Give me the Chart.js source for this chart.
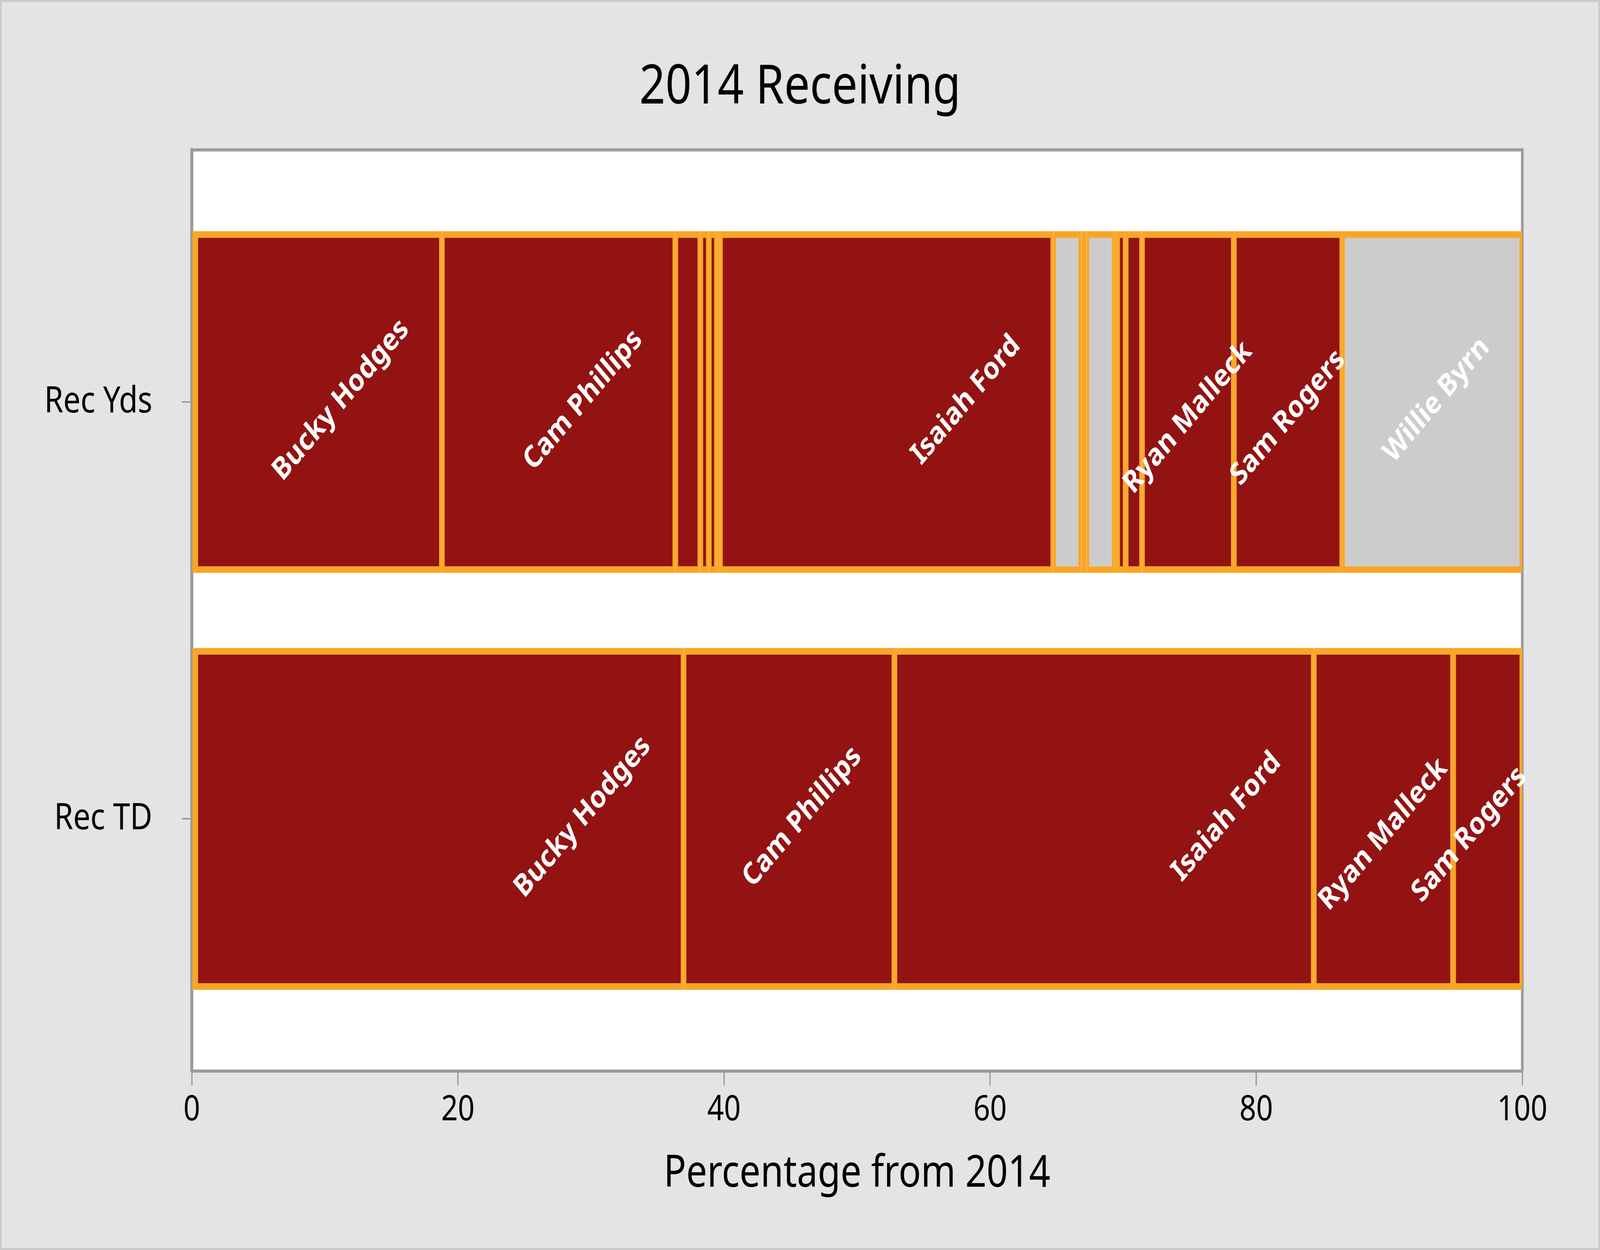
<!DOCTYPE html>
<html>
<head>
<meta charset="utf-8">
<script src="https://cdn.jsdelivr.net/npm/chart.js@4.4.1/dist/chart.umd.min.js"></script>
<style>
html,body{margin:0;padding:0;background:#E4E4E4;overflow:hidden;}
</style>
</head>
<body>
<canvas id="c" width="4868" height="3200" style="display:block;width:100vw;height:100vh;"></canvas>
<script>
// ---------- data ----------
const categories = ['Rec Yds', 'Rec TD'];
const players = ['Bucky Hodges', 'Cam Phillips', '', '', '', '', 'Isaiah Ford', '', '', '', '', '', '', 'Ryan Malleck', 'Sam Rogers', 'Willie Byrn'];
const recYds = [18.80, 17.54, 1.88, 0.64, 0.61, 0.23, 25.05, 2.10, 0.39, 2.11, 0.20, 0.64, 1.23, 6.90, 8.15, 13.53];
const recTD  = [36.96, 15.85, 0, 0, 0, 0, 31.52, 0, 0, 0, 0, 0, 0, 10.47, 5.20, 0];
const groups = ['a', 'a', 'a', 'a', 'a', 'a', 'a', 'b', 'b', 'b', 'b', 'a', 'a', 'a', 'a', 'b'];
const xTicks = [0, 20, 40, 60, 80, 100];

// ---------- styles ----------
const RED = '#921312', GRAY = '#CCCCCC', ORANGE = '#F9A627', FRAME = '#9B9B9B';
const FONT = 'Noto Sans';
const seriesByCat = [recYds, recTD];

function firstNonZero(arr) { return arr.findIndex(v => v > 0); }

const datasets = players.map((name, i) => ({
  label: name || ('segment ' + (i + 1)),
  data: [ {x: recYds[i], y: 0}, {x: recTD[i], y: 1} ],
  backgroundColor: groups[i] === 'a' ? RED : GRAY,
  borderColor: ORANGE,
  borderSkipped: false,
  inflateAmount: 0,
  borderWidth: (ctx) => {
    if (ctx.dataIndex === undefined) return 8.5;
    const arr = seriesByCat[ctx.dataIndex];
    const f = firstNonZero(arr);
    return {top: 17, bottom: 17, left: ctx.datasetIndex === f ? 17 : 8.5, right: 8.5};
  },
  categoryPercentage: 1,
  barPercentage: 0.82
}));

const bgPlugin = {
  id: 'bg',
  beforeDraw(chart) {
    const {ctx, width, height, chartArea: a} = chart;
    ctx.save();
    ctx.fillStyle = '#CBCBCB';
    ctx.fillRect(0, 0, width, height);
    ctx.fillStyle = '#E4E4E4';
    ctx.fillRect(5, 5, width - 10, height - 10);
    ctx.fillStyle = '#FFFFFF';
    ctx.fillRect(a.left, a.top, a.right - a.left, a.bottom - a.top);
    ctx.restore();
  },
  beforeDatasetsDraw(chart) {
    const {ctx, chartArea: a} = chart;
    ctx.save();
    ctx.strokeStyle = FRAME;
    ctx.lineWidth = 8;
    ctx.beginPath();
    ctx.moveTo(a.left, a.top);
    ctx.lineTo(a.right, a.top);
    ctx.lineTo(a.right, a.bottom);
    ctx.stroke();
    ctx.restore();
  }
};

const labelPlugin = {
  id: 'segLabels',
  afterDatasetsDraw(chart) {
    const {ctx} = chart;
    const ang = 45 * Math.PI / 180;
    const size = 78;
    ctx.save();
    ctx.font = 'bold ' + size + 'px "' + FONT + '"';
    ctx.fillStyle = '#FFFFFF';
    ctx.textAlign = 'center';
    ctx.textBaseline = 'middle';
    chart.data.datasets.forEach((ds, di) => {
      const name = players[di];
      if (!name) return;
      const meta = chart.getDatasetMeta(di);
      meta.data.forEach((bar, j) => {
        if (!(ds.data[j].x > 0)) return;
        const p = bar.getProps(['x', 'base', 'y'], true);
        const left = Math.min(p.x, p.base), right = Math.max(p.x, p.base);
        const w = ctx.measureText(name).width;
        const halfBB = (w * Math.cos(ang) + 0.72 * size * Math.sin(ang)) / 2;
        const center = (left + right) / 2;
        const fitsRight = (right - 93) >= (center + halfBB);
        let rightEnd = fitsRight ? right - 93 : center + halfBB;
        rightEnd = Math.min(rightEnd, chart.chartArea.right + 20);
        const cx = rightEnd - halfBB;
        const cy = p.y + (fitsRight ? -5 : 40);
        ctx.save();
        ctx.translate(cx, cy);
        ctx.rotate(-ang);
        ctx.fillText(name, 0, 0);
        ctx.restore();
      });
    });
    ctx.restore();
  }
};

new Chart(document.getElementById('c'), {
  type: 'bar',
  data: { datasets },
  plugins: [bgPlugin, labelPlugin],
  options: {
    indexAxis: 'y',
    responsive: false,
    animation: false,
    devicePixelRatio: 1,
    layout: { padding: 0 },
    plugins: {
      legend: { display: false },
      tooltip: { enabled: false },
      title: {
        display: true,
        text: '2014 Receiving',
        color: '#000000',
        font: { family: FONT, size: 139, weight: 'normal' },
        padding: { top: 142, bottom: 75 }
      }
    },
    scales: {
      x: {
        type: 'linear', min: 0, max: 100, stacked: true, z: 1, offset: false,
        afterBuildTicks: s => { s.ticks = xTicks.map(v => ({value: v})); },
        afterFit: s => { s.height = 458; },
        ticks: { color: '#000000', font: { family: FONT, size: 89 }, padding: 10, maxRotation: 0, autoSkip: false },
        grid: { display: true, offset: false, drawOnChartArea: false, drawTicks: true, tickLength: 37, color: FRAME, lineWidth: 4 },
        border: { display: true, color: FRAME, width: 8 },
        title: {
          display: true, text: 'Percentage from 2014', color: '#000000',
          font: { family: FONT, size: 113 }, padding: { top: 0, bottom: 126 }
        }
      },
      y: {
        type: 'linear', reverse: true, min: -0.605, max: 1.605, stacked: true, z: 1, offset: false,
        afterBuildTicks: s => { s.ticks = categories.map((c, i) => ({value: i})); },
        afterFit: s => { s.width = 583.5; },
        ticks: {
          color: '#000000', font: { family: FONT, size: 93 }, padding: 90, autoSkip: false,
          callback: (v) => (categories[v] !== undefined ? categories[v] : '')
        },
        grid: { display: true, offset: false, drawOnChartArea: false, drawTicks: true, tickLength: 30, color: FRAME, lineWidth: 4 },
        border: { display: true, color: FRAME, width: 9 }
      },
      yRight: {
        type: 'linear', position: 'right', display: true, offset: false,
        afterFit: s => { s.width = 236.5; },
        ticks: { display: false },
        grid: { display: false, drawTicks: false },
        border: { display: false }
      }
    }
  }
});
</script>
</body>
</html>
